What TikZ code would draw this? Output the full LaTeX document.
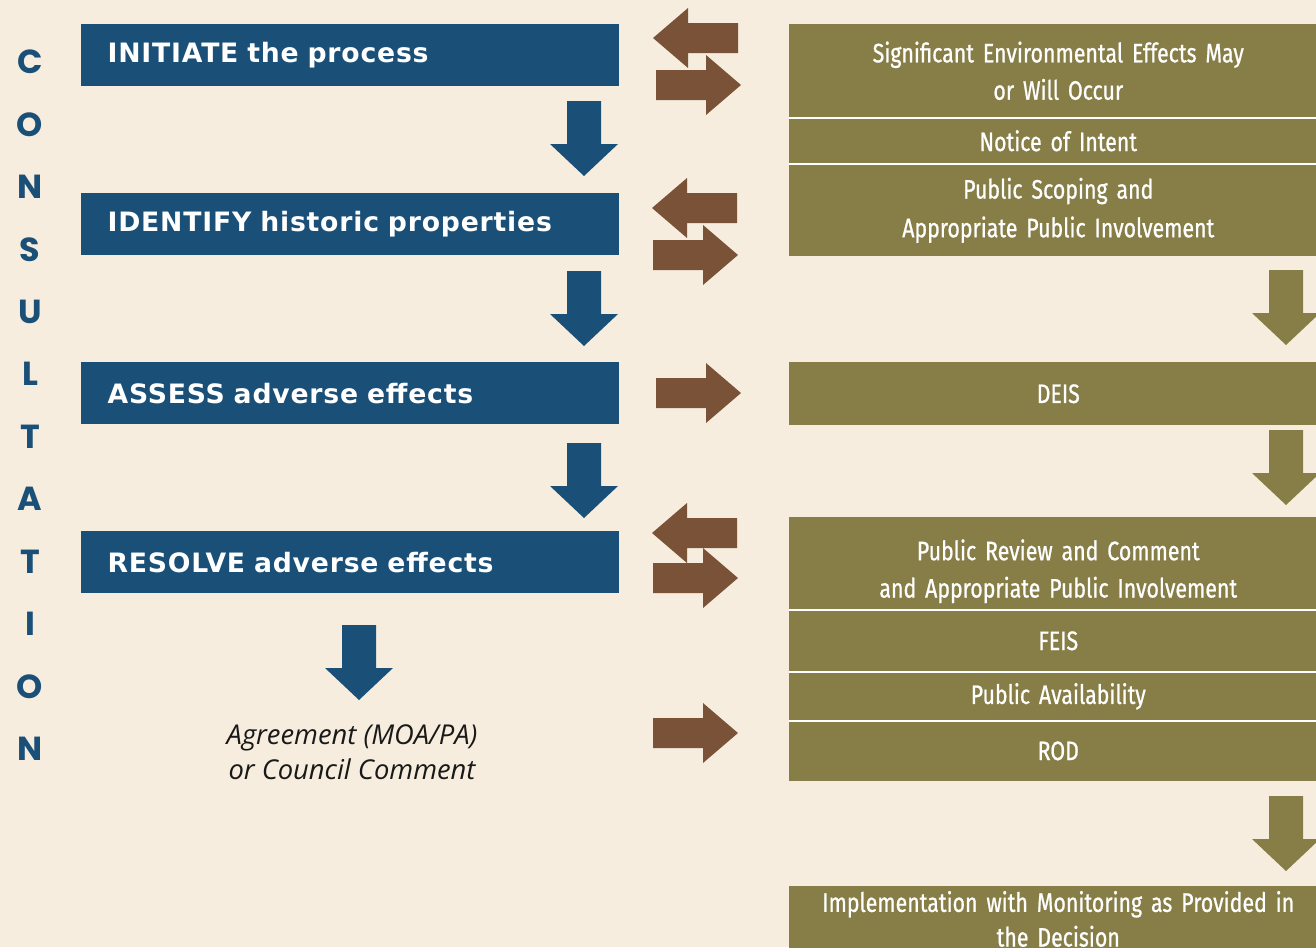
\documentclass[tikz,border=0pt]{standalone}
\usepackage{fontspec}
\newfontfamily\boxfont[LetterSpace=3]{DejaVu Sans}
\newfontfamily\sidefont[FakeStretch=0.8,FakeBold=0.8]{Fira Sans}
\newfontfamily\notefont{Open Sans}
\newfontfamily\letterfont{Poppins}
\usetikzlibrary{positioning}
\definecolor{bgcream}{HTML}{F7EDDE}
\definecolor{stepblue}{HTML}{1A5078}
\definecolor{nepaolive}{HTML}{877D47}
\definecolor{linkbrown}{HTML}{7A5238}

\begin{document}
\begin{tikzpicture}[x=0.75pt,y=-0.75pt,
	bluebox/.style={fill=stepblue,text=white,minimum width=403.5pt,minimum height=46.5pt,
		text width=364pt,inner xsep=19.5pt,align=left,anchor=north west,
		font=\boxfont\bfseries\fontsize{20}{22}\selectfont},
	sidebox/.style={fill=nepaolive,text=white,minimum width=403.5pt,text width=391pt,
		inner xsep=6pt,inner ysep=0pt,align=center,
		font=\sidefont\fontsize{20}{28}\selectfont},
	sidetext/.style={text=white,align=center,inner sep=0pt,text width=391pt,
		font=\sidefont\fontsize{20}{28}\selectfont},
	sepline/.style={white,line width=1.5pt},
	letter/.style={text=stepblue,font=\letterfont\bfseries\fontsize{25}{25}\selectfont},
	note/.style={align=center,text=black!90,font=\notefont\itshape\fontsize{20.5}{26}\selectfont},
	downarr/.pic={\fill (-17,0) -- (17,0) -- (17,43) -- (34,43) -- (0,75) -- (-34,43) -- (-17,43) -- cycle;},
	rightarr/.pic={\fill (0,-15) -- (50,-15) -- (50,-30) -- (85,0) -- (50,30) -- (50,15) -- (0,15) -- cycle;},
	leftarr/.pic={\fill (0,0) -- (35,-30) -- (35,-15) -- (85,-15) -- (85,15) -- (35,15) -- (35,30) -- cycle;}]
	\clip (0,0) rectangle (1316,947);
	\fill[bgcream] (0,0) rectangle (1316,947);

	% consultation letters
	\foreach \l [count=\i] in {C,O,N,S,U,L,T,A,T,I,O,N}
		\node[letter] (let\i) at (30,{62+(\i-1)*62.45}) {\l};

	% section 106 steps
	\node[bluebox] (initiate) at (81,24) {INITIATE the process};
	\node[bluebox] (identify) at (81,193) {IDENTIFY historic properties};
	\node[bluebox] (assess) at (81,362) {ASSESS adverse effects};
	\node[bluebox] (resolve) at (81,531) {RESOLVE adverse effects};
	\node[note] (agree) at (352,752) {Agreement (MOA/PA)\\or Council Comment};

	\pic[fill=stepblue] at (584,101) {downarr};
	\pic[fill=stepblue] at (584,271) {downarr};
	\pic[fill=stepblue] at (584,443) {downarr};
	\pic[fill=stepblue] at (359,625) {downarr};

	% nepa steps
	\node[sidebox,anchor=north west,minimum height=69.75pt] (sig) at (789,24) {Significant Environmental Effects May\\or Will Occur};
	\node[sidebox,minimum height=34.5pt,below=0pt of sig] (noi) {Notice of Intent};
	\node[sidebox,minimum height=69pt,below=0pt of noi,font=\sidefont\fontsize{20}{29}\selectfont] (scope) {Public Scoping and\\Appropriate Public Involvement};
	\node[sidebox,anchor=north west,minimum height=47.25pt] (deis) at (789,362) {DEIS};
	\node[sidebox,anchor=north west,minimum height=69pt] (review) at (789,517) {};
	\node[sidetext] (reviewtext) at ([yshift=-6pt]review.center) {Public Review and Comment\\and Appropriate Public Involvement};
	\node[sidebox,minimum height=46.5pt,below=0pt of review] (feis) {FEIS};
	\node[sidebox,minimum height=36pt,below=0pt of feis] (avail) {Public Availability};
	\node[sidebox,minimum height=45pt,below=0pt of avail] (rod) {ROD};
	\node[sidebox,anchor=north west,minimum height=49pt,font=\sidefont\fontsize{20}{26}\selectfont] (impl) at (789,886) {Implementation with Monitoring as Provided in\\the Decision};

	\draw[sepline] (sig.south west) -- (sig.south east);
	\draw[sepline] (noi.south west) -- (noi.south east);
	\draw[sepline] (review.south west) -- (review.south east);
	\draw[sepline] (feis.south west) -- (feis.south east);
	\draw[sepline] (avail.south west) -- (avail.south east);

	\pic[fill=nepaolive] at (1286,270) {downarr};
	\pic[fill=nepaolive] at (1286,430) {downarr};
	\pic[fill=nepaolive] at (1286,796) {downarr};

	% links between the two processes
	\pic[fill=linkbrown] at (653,38) {leftarr};
	\pic[fill=linkbrown] at (656,85) {rightarr};
	\pic[fill=linkbrown] at (652,208) {leftarr};
	\pic[fill=linkbrown] at (653,255) {rightarr};
	\pic[fill=linkbrown] at (656,393) {rightarr};
	\pic[fill=linkbrown] at (652,533) {leftarr};
	\pic[fill=linkbrown] at (653,578) {rightarr};
	\pic[fill=linkbrown] at (653,733) {rightarr};
\end{tikzpicture}
\end{document}
